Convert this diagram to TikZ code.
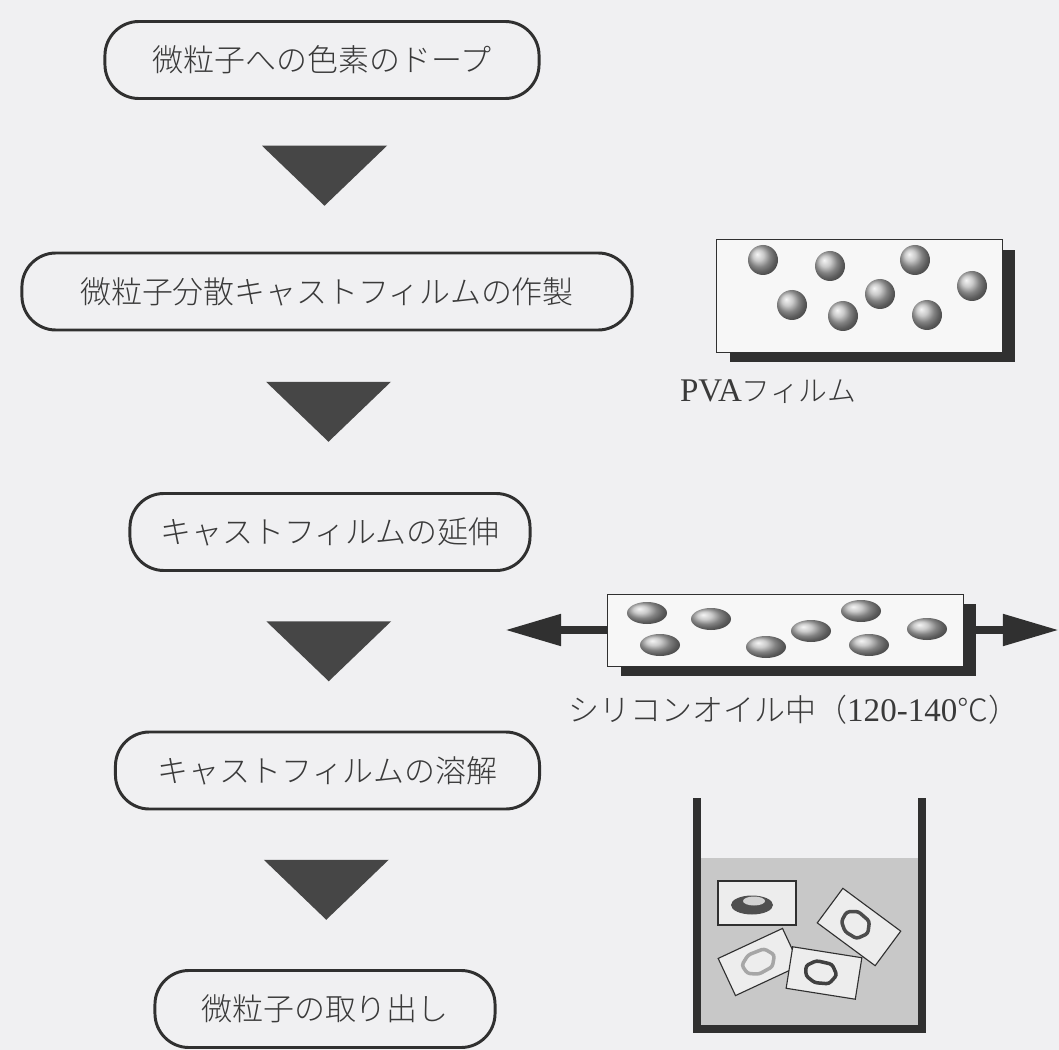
\documentclass[tikz,border=0pt]{standalone}
\usepackage{fontspec}
\setmainfont{Liberation Serif}
\IfFontExistsTF{Noto Sans CJK JP Light}
  {\newfontfamily\jpfont{Noto Sans CJK JP Light}}
  {\newfontfamily\jpfont{Noto Sans CJK JP}}
\usetikzlibrary{calc,shadows,arrows.meta}

\definecolor{paper}{HTML}{F0F0F2}
\definecolor{ink}{HTML}{303030}
\definecolor{textgray}{HTML}{3A3A3A}
\definecolor{tridark}{HTML}{464646}
\definecolor{filmfill}{HTML}{F7F7F7}
\definecolor{oil}{HTML}{C8C8C8}
\definecolor{cardfill}{HTML}{EDEDED}

% outline of a dissolved-out particle ring
\newcommand{\blobpath}{(1,0) -- (0.6,-0.9) -- (-0.4,-1) -- (-1,-0.4) -- (-0.9,0.5) -- (-0.3,1) -- (0.6,0.9) -- cycle}

\begin{document}
\begin{tikzpicture}[x=0.025cm, y=-0.025cm,
    stepbox/.style={draw=ink, line width=2.1pt, rounded corners=0.85cm, fill=paper,
      minimum height=1.925cm, inner sep=0pt, text=textgray,
      font=\jpfont\fontsize{22}{26}\selectfont},
    downtri/.style={fill=tridark},
    film/.style={draw=ink, line width=0.7pt, fill=filmfill, inner sep=0pt,
      drop shadow={shadow xshift=0.325cm, shadow yshift=-0.25cm, fill=ink, opacity=1}},
    bead/.style={ball color=gray!55},
    pull/.style={draw=ink, line width=5.7pt, -{Triangle[length=1.4cm, width=0.75cm]}},
    caption/.style={text=textgray, font=\fontsize{23.5}{26}\selectfont},
    wall/.style={draw=ink, line width=5.7pt, line join=miter},
    card/.style={draw=ink, line width=0.8pt, fill=cardfill},
    rim/.style={line width=2.5pt, rounded corners=2pt}
  ]
    \fill[paper] (0,0) rectangle (1059,1050);
    \useasboundingbox (0,0) rectangle (1059,1050);

    % process steps
    \node[stepbox, minimum width=10.85cm] (dope) at (322,60) {微粒子への色素のドープ};
    \node[stepbox, minimum width=15.25cm] (cast) at (327,291.5) {微粒子分散キャストフィルムの作製};
    \node[stepbox, minimum width=10cm] (stretch) at (330,532) {キャストフィルムの延伸};
    \node[stepbox, minimum width=10.6cm] (dissolve) at (327.5,770.5) {キャストフィルムの溶解};
    \node[stepbox, minimum width=8.5cm] (extract) at (325,1009) {微粒子の取り出し};

    % arrows between steps
    \foreach \a/\b in {dope/cast, cast/stretch, stretch/dissolve, dissolve/extract}{
        \fill[downtri] ($(\a.south)!0.5!(\b.north)$) +(-62.5,-30) -- +(62.5,-30) -- +(0,30) -- cycle;
    }

    % cast film with particles
    \node[film, minimum width=7.125cm, minimum height=2.8cm] (pva) at (859.5,296) {};
    \foreach \x/\y in {763/260, 830/266, 915/260, 972/286, 792/305, 843/316, 880/294, 927/315}{
        \shade[bead] (\x,\y) circle (15);
    }
    \node[caption] (pvalabel) at (768,392) {PVA{\jpfont\fontsize{20.5}{26}\selectfont フィルム}};

    % stretched film
    \node[film, minimum width=8.875cm, minimum height=1.8cm] (drawn) at (785.5,630) {};
    \foreach \x/\y in {647/613, 711/619, 660/645, 766/647, 811/631, 861/611, 869/645, 927/629}{
        \shade[bead] (\x,\y) ellipse (20 and 11);
    }
    \coordinate (lefttip) at (505,630);
    \coordinate (righttip) at (1059,630);
    \draw[pull] (drawn.west) -- (lefttip);
    \draw[pull] (drawn.east) -- (righttip);
    \node[caption] (oillabel) at (794,710) {{\jpfont\fontsize{22}{26}\selectfont シリコンオイル中（}120-140{\jpfont\fontsize{22}{26}\selectfont ℃）}};

    % beaker
    \fill[oil] (697,858) rectangle (922,1029);
    \draw[wall] (697,798) -- (697,1029) -- (922,1029) -- (922,798);

    % film pieces in the solvent
    \begin{scope}[shift={(757,903)}]
        \draw[card] (-39,-22) rectangle (39,22);
        \fill[ink!85] (-5,2) ellipse (21 and 9.5);
        \fill[gray!35] (-3,-2) ellipse (11 and 4.5);
    \end{scope}
    \begin{scope}[shift={(859,927)}, rotate=-36.5]
        \draw[card] (-36,-21.5) rectangle (36,21.5);
        \draw[rim, draw=gray!60!black, shift={(-4,0)}, xscale=15, yscale=12] \blobpath;
    \end{scope}
    \begin{scope}[shift={(759,962)}, rotate=25]
        \draw[card] (-35.5,-20.5) rectangle (35.5,20.5);
        \draw[rim, draw=gray!70, xscale=17, yscale=11] \blobpath;
    \end{scope}
    \begin{scope}[shift={(824,973)}, rotate=-9]
        \draw[card] (-35,-21) rectangle (35,21);
        \draw[rim, draw=gray!50!black, shift={(-3,0)}, xscale=16, yscale=11] \blobpath;
    \end{scope}
\end{tikzpicture}
\end{document}
